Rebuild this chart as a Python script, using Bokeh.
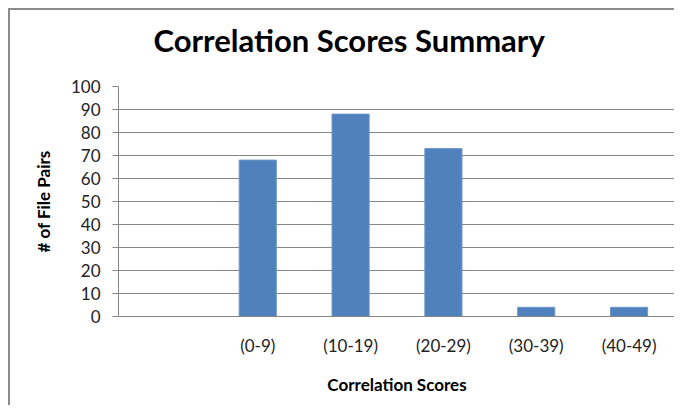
from bokeh.plotting import figure
from bokeh.models import Range1d, FixedTicker, ColumnDataSource, Title
from bokeh.embed import file_html
from bokeh.resources import INLINE
import numpy as np

title_text = "Correlation Scores Summary"
categories = ["", "(0-9)", "(10-19)", "(20-29)", "(30-39)", "(40-49)"]
values = [np.nan, 68, 88, 73, 4, 4]
y_ticks = [0, 10, 20, 30, 40, 50, 60, 70, 80, 90, 100]

FONT = "Lato"
pos = np.arange(len(categories)) + 0.5
src = ColumnDataSource(dict(x=pos, top=values, cat=categories))

p = figure(width=666, height=397, output_backend="svg", toolbar_location=None,
           x_range=Range1d(0, len(categories)), y_range=Range1d(0, 100),
           min_border_left=108, min_border_right=1, min_border_top=76, min_border_bottom=91)
p.styles = {"margin-left": "8px", "margin-top": "8px",
            "border-left": "2px solid #8c8c8c", "border-top": "2px solid #8c8c8c"}
p.outline_line_color = None
p.background_fill_color = "white"
p.border_fill_color = "white"

p.vbar(x="x", top="top", width=0.4, bottom=0, source=src,
       fill_color="#4F81BD", line_color="#6f95c8", line_width=1)

# spacer between frame and title, then the title itself
p.add_layout(Title(text=" ", text_font_size="1px", standoff=25), "above")
p.add_layout(Title(text=title_text, align="left", offset=35, standoff=0,
                   text_font=FONT, text_font_size="31px", text_font_style="bold",
                   text_color="#000000"), "above")

# y axis
ya = p.yaxis[0]
ya.ticker = FixedTicker(ticks=y_ticks)
ya.axis_line_color = "#868686"
ya.major_tick_line_color = "#868686"
ya.major_tick_out = 6
ya.major_tick_in = 0
ya.minor_tick_line_color = None
ya.major_label_text_font = FONT
ya.major_label_text_font_size = "17px"
ya.major_label_text_color = "#222222"
ya.major_label_standoff = 12
ya.axis_label = "# of File Pairs"
ya.axis_label_text_font = FONT
ya.axis_label_text_font_size = "17px"
ya.axis_label_text_font_style = "bold"
ya.axis_label_text_color = "#000000"
ya.axis_label_standoff = 14

# x axis
xa = p.xaxis[0]
xa.ticker = FixedTicker(ticks=list(pos))
xa.major_label_overrides = {float(v): c for v, c in zip(pos, categories)}
xa.axis_line_color = "#868686"
xa.major_tick_line_color = None
xa.major_tick_out = 0
xa.major_tick_in = 0
xa.minor_tick_line_color = None
xa.major_label_text_font = FONT
xa.major_label_text_font_size = "17px"
xa.major_label_text_color = "#222222"
xa.major_label_standoff = 18
xa.axis_label = "Correlation Scores"
xa.axis_label_text_font = FONT
xa.axis_label_text_font_size = "17px"
xa.axis_label_text_font_style = "bold"
xa.axis_label_text_color = "#000000"
xa.axis_label_standoff = 15

p.xgrid.grid_line_color = None
p.ygrid.ticker = FixedTicker(ticks=y_ticks)
p.ygrid.grid_line_color = "#868686"

open("out.html", "w").write(file_html(p, INLINE))
